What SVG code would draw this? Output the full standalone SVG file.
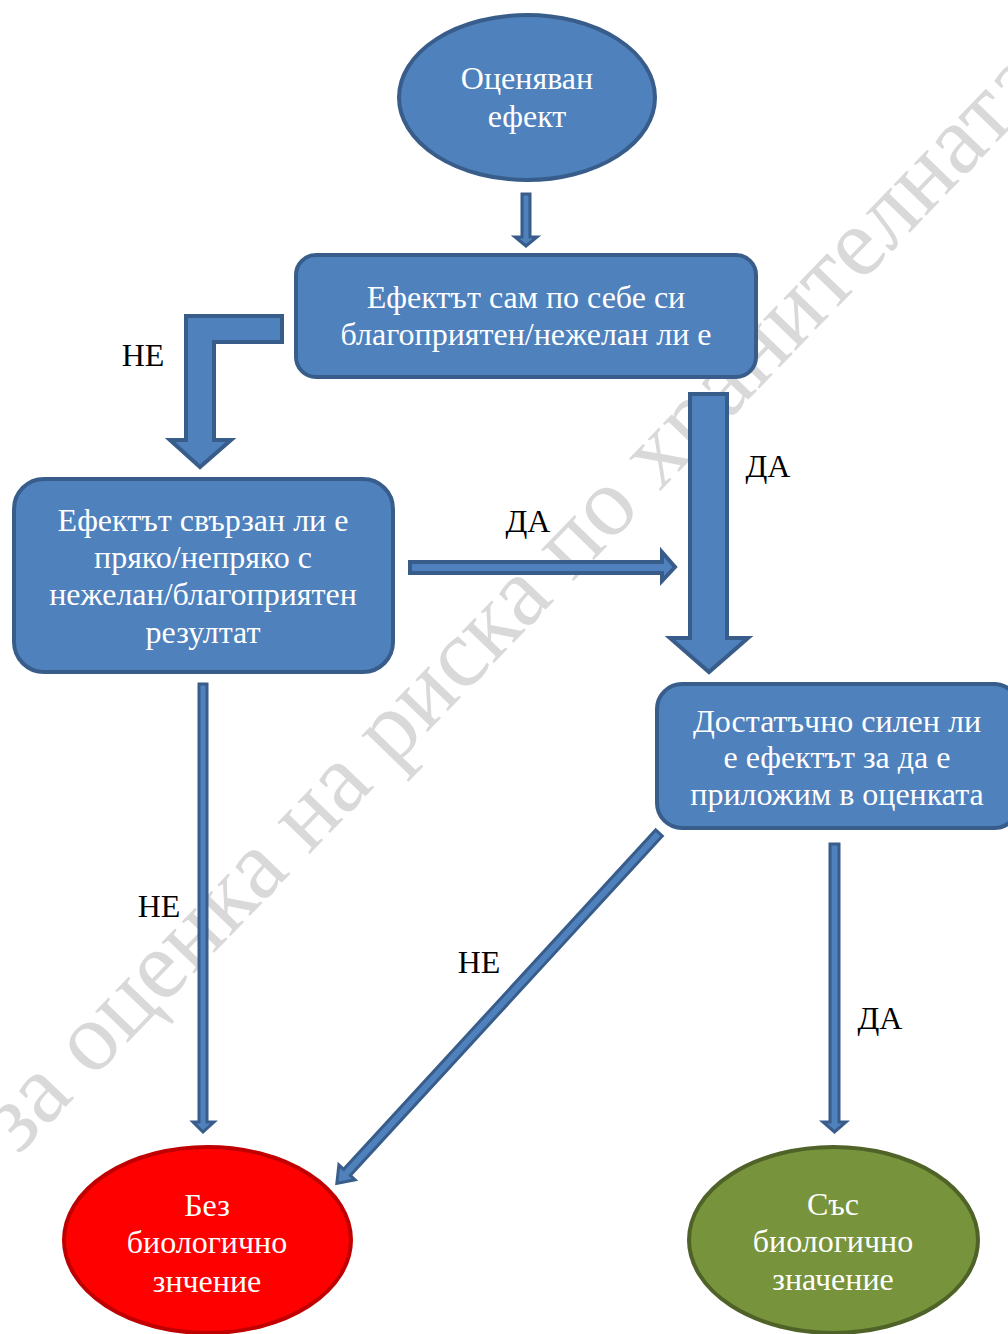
<svg xmlns="http://www.w3.org/2000/svg" width="1008" height="1334" viewBox="0 0 1008 1334">
<style>
.node{fill:#4f81bd;stroke:#385d8a;stroke-width:4}
.arrow{fill:#4f81bd;stroke:#385d8a;stroke-width:4;stroke-linejoin:miter}
.thin{fill:#4f81bd;stroke:#385d8a;stroke-width:3;stroke-linejoin:miter}
.t{font-family:"Liberation Serif","Times New Roman",serif;font-size:32px;fill:#ffffff;text-anchor:middle}
.lbl{font-family:"Liberation Serif","Times New Roman",serif;font-size:32px;fill:#000000;text-anchor:middle}
.wm{font-family:"Liberation Serif","Times New Roman",serif;font-size:98px;fill:#d9d9d9}
</style>
<rect width="1008" height="1334" fill="#ffffff"/>
<g id="watermark">
<text class="wm" transform="translate(18,1156) rotate(-46)">за оценка на риска по хранителната</text>
</g>
<g id="connectors">
<polygon class="thin" points="522,194 530,194 530,237 537,237 526,246 515,237 522,237"/>
<polygon class="arrow" points="282,316 282,342 214,342 214,440 231,440 200,467 170,440 186,440 186,316"/>
<polygon class="arrow" points="690,394 727,394 727,638 748,638 709,672 670,638 690,638"/>
<polygon class="arrow" points="410,562 662,562 662,552 675,567 662,581 662,573 410,573"/>
<polygon class="thin" points="199,684 207,684 207,1122 214,1122 203,1132 193,1122 199,1122"/>
<polygon class="thin" points="830,844 839,844 839,1122 846,1122 834.5,1132 823,1122 830,1122"/>
<polygon class="thin" transform="translate(659,833) rotate(132.6)" points="0,-4.5 461,-4.5 461,-11 476,0 461,11 461,4.5 0,4.5"/>
</g>
<g id="labels">
<text class="lbl" x="143" y="366">НЕ</text>
<text class="lbl" x="768" y="477">ДА</text>
<text class="lbl" x="528" y="532">ДА</text>
<text class="lbl" x="159" y="917">НЕ</text>
<text class="lbl" x="479" y="973">НЕ</text>
<text class="lbl" x="880" y="1029">ДА</text>
</g>
<g id="node-start">
<ellipse class="node" cx="527" cy="97.5" rx="128" ry="82.5"/>
<text class="t" x="527" y="89">Оценяван</text>
<text class="t" x="527" y="127">ефект</text>
</g>
<g id="node-q1">
<rect class="node" x="296" y="255" width="460" height="122" rx="20"/>
<text class="t" x="526" y="308">Ефектът сам по себе си</text>
<text class="t" x="526" y="345">благоприятен/нежелан ли е</text>
</g>
<g id="node-q2">
<rect class="node" x="14" y="479" width="379" height="193" rx="30"/>
<text class="t" x="203" y="531">Ефектът свързан ли е</text>
<text class="t" x="203" y="568">пряко/непряко с</text>
<text class="t" x="203" y="605">нежелан/благоприятен</text>
<text class="t" x="203" y="643">резултат</text>
</g>
<g id="node-q3">
<rect class="node" x="657" y="684" width="362" height="144" rx="25"/>
<text class="t" x="837" y="732">Достатъчно силен ли</text>
<text class="t" x="837" y="768">е ефектът за да е</text>
<text class="t" x="837" y="805">приложим в оценката</text>
</g>
<g id="node-no">
<ellipse cx="207.5" cy="1240" rx="143.5" ry="93" fill="#ff0000" stroke="#c00000" stroke-width="4"/>
<text class="t" x="207" y="1216">Без</text>
<text class="t" x="207" y="1253">биологично</text>
<text class="t" x="207" y="1292">знчение</text>
</g>
<g id="node-yes">
<ellipse cx="833.5" cy="1240" rx="144.5" ry="93" fill="#77933c" stroke="#4f6228" stroke-width="4"/>
<text class="t" x="833" y="1215">Със</text>
<text class="t" x="833" y="1252">биологично</text>
<text class="t" x="833" y="1290">значение</text>
</g>
</svg>
